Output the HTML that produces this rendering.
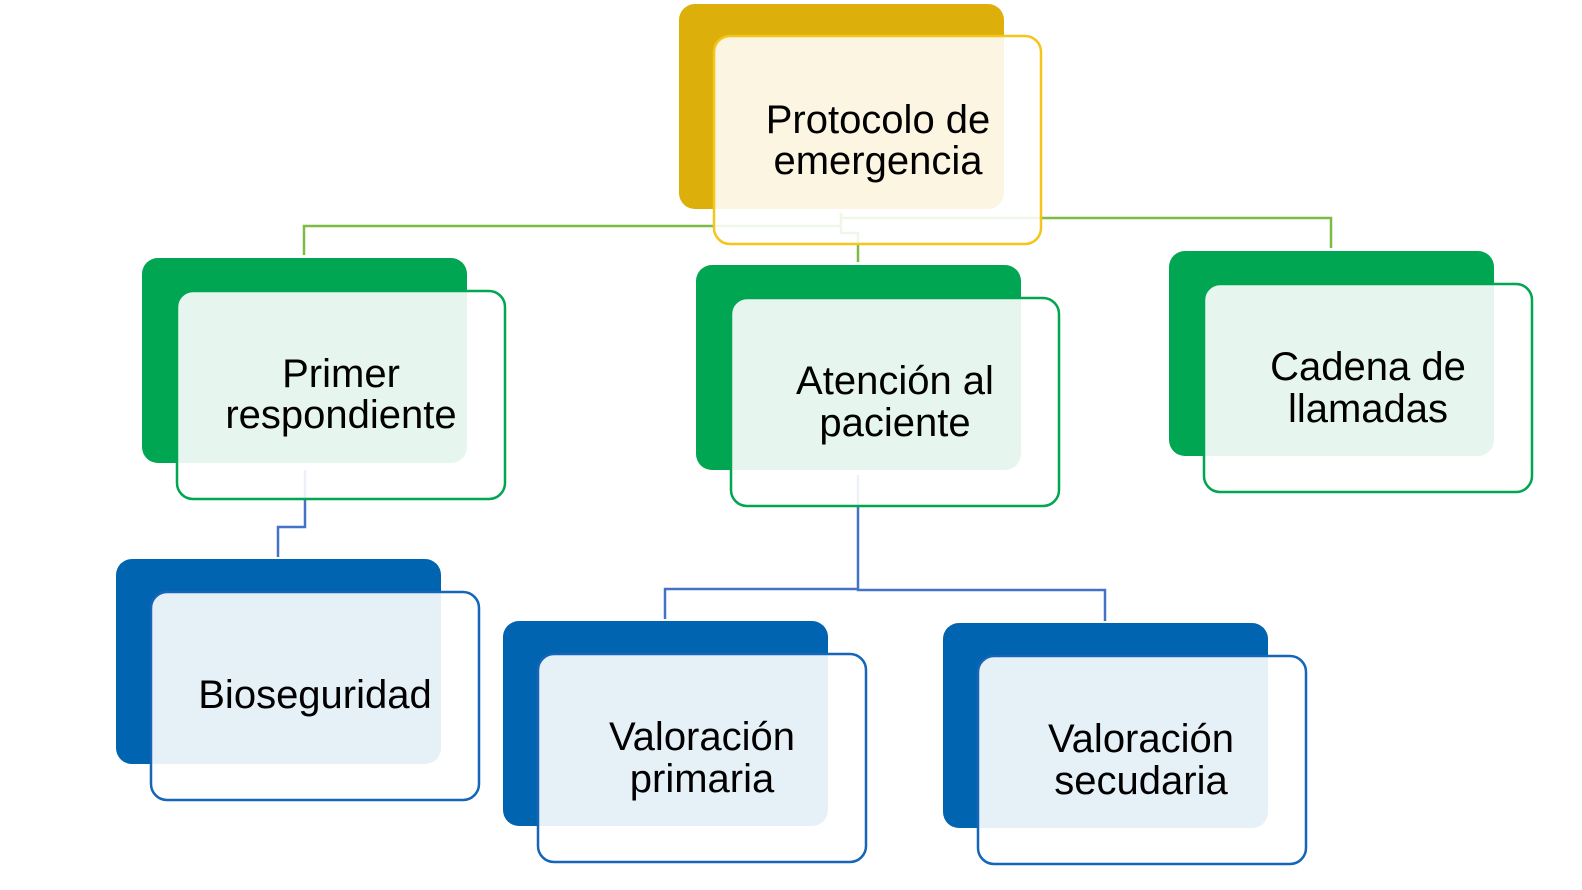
<!DOCTYPE html>
<html><head><meta charset="utf-8"><style>
html,body{margin:0;padding:0;background:#fff;}
svg{display:block;}
text{font-family:"Liberation Sans",sans-serif;font-size:40px;fill:#000;text-anchor:middle;}
</style></head><body>
<svg width="1582" height="890" viewBox="0 0 1582 890" xmlns="http://www.w3.org/2000/svg">
<rect x="679" y="4" width="325" height="205" rx="16" fill="#DCAF0B"/>
<rect x="142" y="258" width="325" height="205" rx="16" fill="#00A651"/>
<rect x="696" y="265" width="325" height="205" rx="16" fill="#00A651"/>
<rect x="1169" y="251" width="325" height="205" rx="16" fill="#00A651"/>
<rect x="116" y="559" width="325" height="205" rx="16" fill="#0064B0"/>
<rect x="503" y="621" width="325" height="205" rx="16" fill="#0064B0"/>
<rect x="943" y="623" width="325" height="205" rx="16" fill="#0064B0"/>
<g fill="none" stroke="#7DBB42" stroke-width="2.5">
<polyline points="841,213 841,226 304,226 304,255"/>
<polyline points="841,213 841,218 1331,218 1331,248"/>
<polyline points="841,226 841,233 858,233 858,262"/>
</g>
<g fill="none" stroke="#4472C4" stroke-width="2.5">
<polyline points="305,470 305,527 278,527 278,557"/>
<polyline points="858,475 858,589 665,589 665,619"/>
<polyline points="858,589 858,590 1105,590 1105,621"/>
</g>
<rect x="714" y="36" width="327" height="208" rx="16" fill="#fff" fill-opacity="0.88" stroke="#F5C51A" stroke-width="2.5"/>
<rect x="177" y="291" width="328" height="208" rx="16" fill="#fff" fill-opacity="0.9" stroke="#00A651" stroke-width="2.5"/>
<rect x="731" y="298" width="328" height="208" rx="16" fill="#fff" fill-opacity="0.9" stroke="#00A651" stroke-width="2.5"/>
<rect x="1204" y="284" width="328" height="208" rx="16" fill="#fff" fill-opacity="0.9" stroke="#00A651" stroke-width="2.5"/>
<rect x="151" y="592" width="328" height="208" rx="16" fill="#fff" fill-opacity="0.9" stroke="#1565B8" stroke-width="2.5"/>
<rect x="538" y="654" width="328" height="208" rx="16" fill="#fff" fill-opacity="0.9" stroke="#1565B8" stroke-width="2.5"/>
<rect x="978" y="656" width="328" height="208" rx="16" fill="#fff" fill-opacity="0.9" stroke="#1565B8" stroke-width="2.5"/>
<text x="878" y="133">Protocolo de</text>
<text x="878" y="174">emergencia</text>
<text x="341" y="387">Primer</text>
<text x="341" y="428">respondiente</text>
<text x="895" y="394">Atención al</text>
<text x="895" y="436">paciente</text>
<text x="1368" y="380">Cadena de</text>
<text x="1368" y="422">llamadas</text>
<text x="315" y="708">Bioseguridad</text>
<text x="702" y="750">Valoración</text>
<text x="702" y="792">primaria</text>
<text x="1141" y="752">Valoración</text>
<text x="1141" y="794">secudaria</text>
</svg>
</body></html>
